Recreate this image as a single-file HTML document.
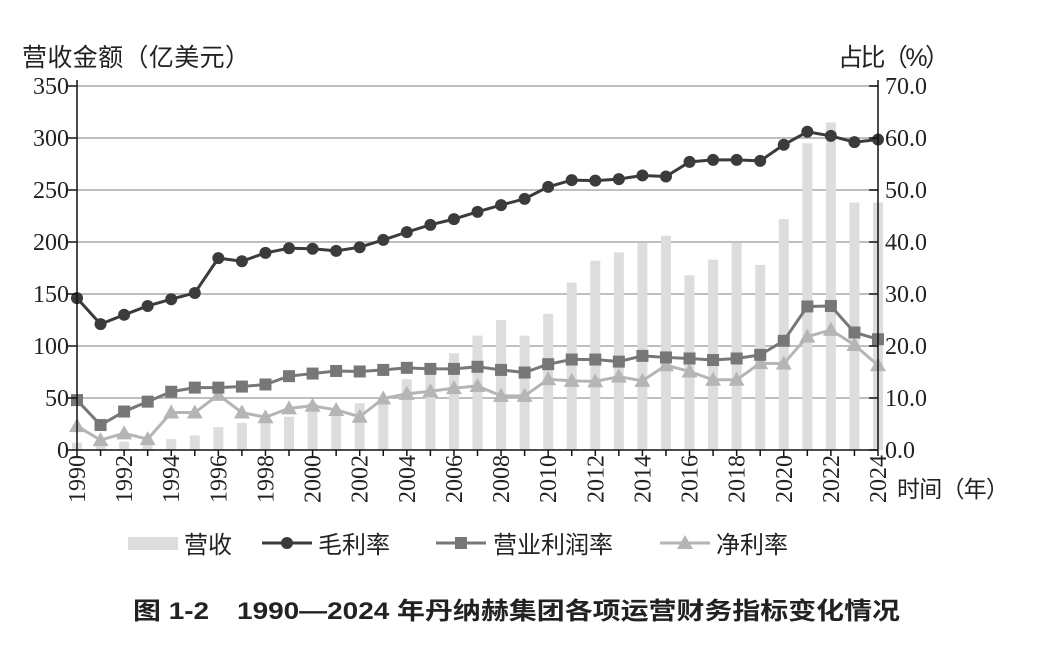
<!DOCTYPE html>
<html><head><meta charset="utf-8">
<style>
body{margin:0;background:#fff;}
svg{display:block;}
.t{font-family:"Liberation Serif","Noto Serif CJK SC",serif;font-size:24px;fill:#222;}
.c{font-family:"Liberation Sans","Noto Sans CJK SC",sans-serif;fill:#222;}
</style></head>
<body>
<svg id="chart" width="1054" height="650" xmlns="http://www.w3.org/2000/svg">
<g id="grid"></g>
<g id="bars"></g>
<g id="lines"></g>
<g id="axes"></g>
<text class="c" x="22" y="66" font-size="25" textLength="228">营收金额（亿美元）</text>
<text class="c" x="838" y="66" font-size="25" textLength="112">占比（%）</text>
<text class="c" x="897" y="497" font-size="23" textLength="112">时间（年）</text>
<g>
<g><rect x="128" y="537" width="50" height="13" fill="#dcdddc"/><text class="c" x="184" y="553" font-size="24">营收</text></g>
<g><line x1="262" y1="543" x2="312" y2="543" stroke="#3d3a3a" stroke-width="3"/><circle cx="287" cy="543" r="6" fill="#3d3a3a"/><text class="c" x="318" y="553" font-size="24">毛利率</text></g>
<g><line x1="436" y1="543" x2="486" y2="543" stroke="#777" stroke-width="3"/><rect x="455" y="537" width="12" height="12" fill="#777"/><text class="c" x="493" y="553" font-size="24">营业利润率</text></g>
<g><line x1="660" y1="543" x2="710" y2="543" stroke="#b4b6b5" stroke-width="3"/><polygon points="685,535 693,549 677,549" fill="#b4b6b5"/><text class="c" x="716" y="553" font-size="24">净利率</text></g>
</g>
<text class="c" x="133" y="619" font-size="24" font-weight="bold" textLength="767" lengthAdjust="spacingAndGlyphs">图 1-2　1990—2024 年丹纳赫集团各项运营财务指标变化情况</text>
</svg>
<script>
const years=[1990,1991,1992,1993,1994,1995,1996,1997,1998,1999,2000,2001,2002,2003,2004,2005,2006,2007,2008,2009,2010,2011,2012,2013,2014,2015,2016,2017,2018,2019,2020,2021,2022,2023,2024];
const revenue=[7,5,8,6,10.5,14,22,26,31,32,45,38,45,48,68,73,93,110,125,110,131,161,182,190,199,206,168,183,199,178,222,295,315,238,238];
const grossMargin=[29.2,24.2,26,27.7,29,30.2,36.9,36.3,37.9,38.8,38.7,38.3,39,40.4,41.9,43.3,44.4,45.8,47.1,48.3,50.6,51.9,51.8,52.1,52.8,52.6,55.4,55.8,55.8,55.6,58.7,61.2,60.4,59.2,59.7];
const opMargin=[9.6,4.8,7.4,9.3,11.2,12,12,12.2,12.6,14.2,14.7,15.2,15.1,15.4,15.8,15.6,15.6,16,15.4,14.9,16.5,17.4,17.4,17,18.1,17.8,17.6,17.3,17.6,18.3,21,27.6,27.7,22.6,21.3];
const netMargin=[4.6,1.9,3.2,2.1,7.2,7.2,10.6,7.2,6.3,8,8.5,7.7,6.4,9.9,10.8,11.3,11.9,12.3,10.4,10.4,13.6,13.3,13.2,14.1,13.3,16.3,15.1,13.5,13.5,16.7,16.6,21.8,23.1,20.2,16.3];
const leftTicks=[0,50,100,150,200,250,300,350];
const rightTicks=["0.0","10.0","20.0","30.0","40.0","50.0","60.0","70.0"];

const NS="http://www.w3.org/2000/svg";
const X0=77,X1=878,Y0=450,Y1=86;
const xs=i=>X0+(X1-X0)*i/(years.length-1);
const yL=v=>Y0-(Y0-Y1)*v/350;
const yR=v=>Y0-(Y0-Y1)*v/70;
function mk(tag,attrs,parent){const e=document.createElementNS(NS,tag);for(const k in attrs)e.setAttribute(k,attrs[k]);parent.appendChild(e);return e;}
const grid=document.getElementById('grid'),bars=document.getElementById('bars'),lines=document.getElementById('lines'),axes=document.getElementById('axes');

leftTicks.forEach((v,i)=>{
  const y=yL(v);
  if(v>0){const g=mk('line',{x1:X0,x2:X1,y1:y,y2:y,stroke:'#aaa','stroke-width':1.5},grid);
  
  }
  mk('line',{x1:X0-9,x2:X0,y1:y,y2:y,stroke:'#111','stroke-width':1.5},axes);
  const t=mk('text',{x:X0-8,y:y+8,'text-anchor':'end',class:'t'},axes);t.textContent=v;
  
  
  const yr=yR(i*10);
  mk('line',{x1:X1-9,x2:X1,y1:yr,y2:yr,stroke:'#111','stroke-width':1.5},axes);
  const t2=mk('text',{x:X1+7,y:yr+8,class:'t'},axes);t2.textContent=rightTicks[i];
  
  
});
mk('line',{x1:X0,x2:X0,y1:Y1-6,y2:Y0,stroke:'#111','stroke-width':1.5},axes);
mk('line',{x1:X1,x2:X1,y1:Y1-6,y2:Y0,stroke:'#111','stroke-width':1.5},axes);
mk('line',{x1:X0,x2:X1,y1:Y0,y2:Y0,stroke:'#111','stroke-width':1.5},axes);

revenue.forEach((v,i)=>{
  const r=mk('rect',{x:xs(i)-5,y:yL(v),width:10,height:Y0-yL(v),fill:'#dcdddc'},bars);
  
  
});
years.forEach((yr,i)=>{
  const x=xs(i);
  mk('line',{x1:x,x2:x,y1:Y0,y2:Y0+6,stroke:'#111','stroke-width':1.5},axes);
  if(i%2===0){
    const t=mk('text',{x:0,y:0,class:'t','font-size':'22','text-anchor':'end',transform:`translate(${x+8},${Y0+5}) rotate(-90)`},axes);
    t.textContent=yr;
    
    
  }
});
function series(data,color,shape,name){
  const pts=data.map((v,i)=>xs(i)+','+yR(v)).join(' ');
  const p=mk('polyline',{points:pts,fill:'none',stroke:color,'stroke-width':3,'stroke-linejoin':'round'},lines);
  
  
  data.forEach((v,i)=>{
    const x=xs(i),y=yR(v);let m;
    if(shape==='c')m=mk('circle',{cx:x,cy:y,r:6,fill:color},lines);
    else if(shape==='s')m=mk('rect',{x:x-6,y:y-6,width:12,height:12,fill:color},lines);
    else m=mk('polygon',{points:`${x},${y-8} ${x+8},${y+6} ${x-8},${y+6}`,fill:color},lines);
    
    
  });
}
series(netMargin,'#b4b6b5','t','net-margin');
series(opMargin,'#777777','s','operating-margin');
series(grossMargin,'#3d3a3a','c','gross-margin');
</script>
</body></html>
